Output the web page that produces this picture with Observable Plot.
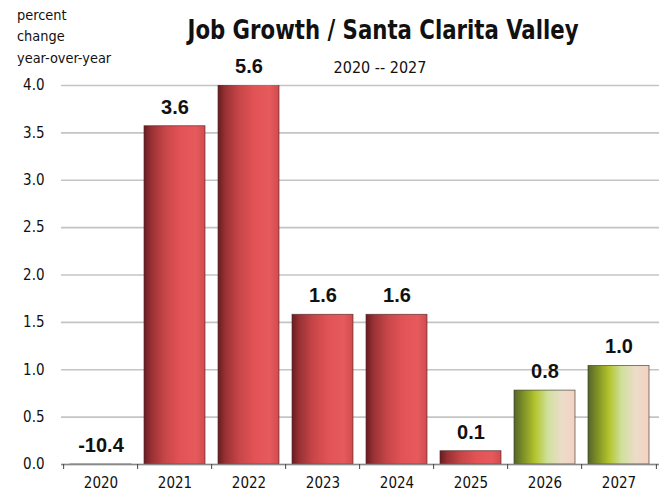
<!DOCTYPE html>
<html><head><meta charset="utf-8">
<script src="https://cdn.jsdelivr.net/npm/d3@7"></script>
<script src="https://cdn.jsdelivr.net/npm/@observablehq/plot@0.6"></script>
<style>
body{margin:0;background:#fff}
#wrap{position:relative;width:665px;height:492px;font-family:"DejaVu Sans Condensed","Liberation Sans",sans-serif;color:#111;overflow:hidden}
#wrap svg{position:absolute;left:0;top:0}
.t{position:absolute;white-space:pre;line-height:1}
#title{left:133px;width:500px;top:16px;text-align:center;font-size:27px;font-weight:bold;transform:scaleX(0.875);transform-origin:50% 50%}
#sub{left:330px;width:100px;top:59.5px;text-align:center;font-size:16px}
#ylab{left:17px;top:4.5px;font-size:14.4px;line-height:21.5px}
</style></head>
<body>
<div id="wrap">
<div class="t" id="title">Job Growth / Santa Clarita Valley</div>
<div class="t" id="sub">2020 -- 2027</div>
<div class="t" id="ylab">percent
change
year-over-year</div>
</div>
<script>
const years = ["2020","2021","2022","2023","2024","2025","2026","2027"];
const values = [-10.4, 3.57, 5.6, 1.58, 1.58, 0.14, 0.78, 1.04];
const labels = ["-10.4","3.6","5.6","1.6","1.6","0.1","0.8","1.0"];
const forecast = [false,false,false,false,false,false,true,true];
const yTicks = [0,0.5,1,1.5,2,2.5,3,3.5,4];
const yMax = 4;

const data = years.map((year,i)=>({year, value: values[i], label: labels[i], forecast: forecast[i], labelY: Math.max(0, Math.min(yMax, values[i]))}));

const W = 665, H = 492, mL = 61, mR = 6, mT = 85, mB = 28;
const step = (W - mL - mR) / years.length;
const font = '"DejaVu Sans Condensed","Liberation Sans",sans-serif';

const chart = Plot.plot({
  width: W, height: H, marginTop: mT, marginRight: mR, marginBottom: mB, marginLeft: mL,
  style: {fontFamily: font, fontSize: "15px", color: "#111", background: "transparent"},
  x: {domain: years, paddingInner: 0.17, paddingOuter: 0.085, label: null},
  y: {domain: [0, yMax], label: null},
  marks: [
    Plot.gridY(yTicks, {stroke: "#c4c4c4", strokeOpacity: 1, strokeWidth: 1.6}),
    Plot.barY(data.filter(d => !d.forecast), {x: "year", y: "value", fill: "url(#gRed)", stroke: "#4a2a2a", strokeWidth: 0.8, strokeOpacity: 0.8, clip: true}),
    Plot.barY(data.filter(d => d.forecast), {x: "year", y: "value", fill: "url(#gGreen)", stroke: "#3a3a2a", strokeWidth: 0.8, strokeOpacity: 0.8, clip: true}),
    Plot.ruleY([0], {stroke: "#8a8a8a", strokeWidth: 1.5}),
    Plot.axisX(years, {tickSize: 5, tickFormat: () => "", dx: -step/2, stroke: "#444", tickPadding: 0}),
    Plot.axisX([years[years.length-1]], {tickSize: 5, tickFormat: () => "", dx: step/2, stroke: "#444", tickPadding: 0}),
    Plot.axisX(years, {tickSize: 0, tickPadding: 13, fontSize: 15}),
    Plot.axisY(yTicks, {tickSize: 0, tickPadding: 17, tickFormat: d3.format(".1f"), fontSize: 15}),
    Plot.text(data, {x: "year", y: "labelY", text: "label", dy: -19, fontWeight: "bold", fontSize: 20, fontFamily: '"Liberation Sans",Arial,sans-serif', fill: "#111"})
  ]
});

const defs = d3.select(chart).insert("defs", ":first-child");
const red = defs.append("linearGradient").attr("id", "gRed").attr("x1", 0).attr("x2", 1).attr("y1", 0).attr("y2", 0);
[[0,"#6a1c20"],[0.12,"#983134"],[0.35,"#c84648"],[0.6,"#e25356"],[0.85,"#e65a5c"],[1,"#d24b4e"]]
  .forEach(([o,c]) => red.append("stop").attr("offset", o).attr("stop-color", c));
const green = defs.append("linearGradient").attr("id", "gGreen").attr("x1", 0).attr("x2", 1).attr("y1", 0).attr("y2", 0);
[[0,"#55652a"],[0.15,"#7d8f26"],[0.35,"#b4c52e"],[0.55,"#cfe09c"],[0.78,"#ecdcc8"],[1,"#f3d2c4"]]
  .forEach(([o,c]) => green.append("stop").attr("offset", o).attr("stop-color", c));

document.getElementById("wrap").appendChild(chart);
</script>
</body></html>
